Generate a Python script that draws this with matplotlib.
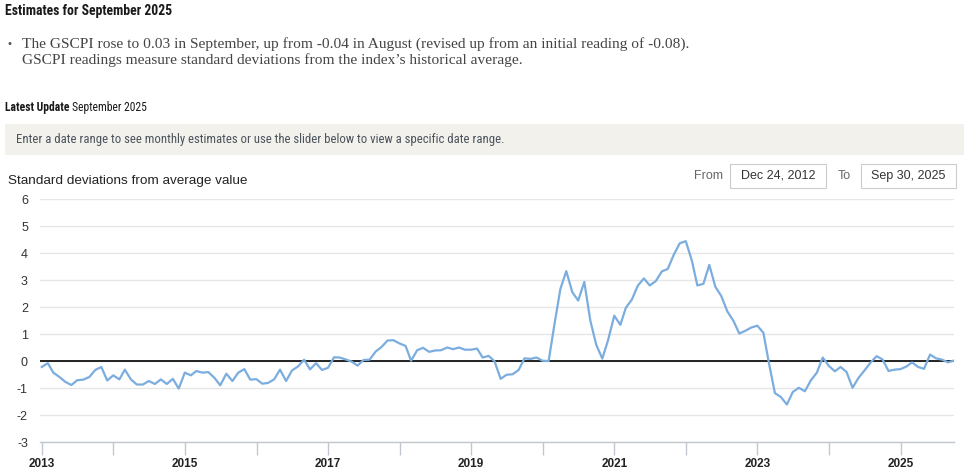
import matplotlib
matplotlib.use("Agg")
import matplotlib.pyplot as plt
from matplotlib import font_manager as fm
from matplotlib.font_manager import FontProperties
from matplotlib.patches import Rectangle
import pandas as pd

# ---- data (GSCPI, monthly, Dec 2012 - Sep 2025) ----
start_month = "2012-12-31"
gscpi = [
    -0.21, -0.07, -0.42, -0.58, -0.76, -0.88, -0.70, -0.68, -0.58, -0.32, -0.21, -0.71,  # Dec12-Nov13
    -0.52, -0.67, -0.31, -0.67, -0.86, -0.86, -0.73, -0.84, -0.67, -0.84, -0.65, -1.01,  # Dec13-Nov14
    -0.42, -0.52, -0.36, -0.42, -0.40, -0.61, -0.89, -0.46, -0.73, -0.42, -0.29, -0.68,  # Dec14-Nov15
    -0.66, -0.83, -0.80, -0.67, -0.31, -0.73, -0.34, -0.19, 0.06, -0.30, -0.07, -0.32,   # Dec15-Nov16
    -0.24, 0.15, 0.14, 0.07, -0.01, -0.16, 0.05, 0.06, 0.36, 0.53, 0.77, 0.78,           # Dec16-Nov17
    0.66, 0.57, 0.02, 0.41, 0.50, 0.35, 0.40, 0.41, 0.51, 0.45, 0.51, 0.43,              # Dec17-Nov18
    0.43, 0.47, 0.14, 0.20, 0.00, -0.65, -0.50, -0.48, -0.32, 0.11, 0.09, 0.14,          # Dec18-Nov19
    0.02, 0.01, 1.34, 2.68, 3.34, 2.56, 2.25, 2.94, 1.50, 0.61, 0.10, 0.80,              # Dec19-Nov20
    1.69, 1.35, 1.98, 2.29, 2.80, 3.07, 2.81, 2.97, 3.33, 3.42, 3.95, 4.37,              # Dec20-Nov21
    4.45, 3.73, 2.81, 2.87, 3.57, 2.76, 2.42, 1.85, 1.50, 1.03, 1.13, 1.25,              # Dec21-Nov22
    1.32, 1.06, -0.05, -1.18, -1.32, -1.60, -1.14, -0.98, -1.11, -0.71, -0.42, 0.14,     # Dec22-Nov23
    -0.17, -0.37, -0.21, -0.40, -0.98, -0.61, -0.34, -0.05, 0.19, 0.07, -0.36, -0.31,    # Dec23-Nov24
    -0.29, -0.19, -0.04, -0.21, -0.28, 0.25, 0.11, 0.06, -0.04, 0.03,                   # Dec24-Sep25
]
dates = pd.date_range(start_month, periods=len(gscpi), freq="ME")

y_ticks = [-3, -2, -1, 0, 1, 2, 3, 4, 5, 6]
year_labels = [2013, 2015, 2017, 2019, 2021, 2023, 2025]
range_from = "Dec 24, 2012"
range_to = "Sep 30, 2025"

title = "Estimates for September 2025"
bullet_1 = "The GSCPI rose to 0.03 in September, up from -0.04 in August (revised up from an initial reading of -0.08)."
bullet_2 = "GSCPI readings measure standard deviations from the index\u2019s historical average."
update_label = "Latest Update"
update_value = "September 2025"
y_title = "Standard deviations from average value"
band_text = "Enter a date range to see monthly estimates or use the slider below to view a specific date range."

# ---- fonts ----
sans = ["Liberation Sans", "DejaVu Sans"]
serif = ["Liberation Serif", "DejaVu Serif"]


def find_condensed(bold):
    cands = []
    for f in fm.fontManager.ttflist:
        fn = f.fname
        if not ("Condensed" in fn or "Narrow" in fn):
            continue
        if "Italic" in fn or "Oblique" in fn or "Light" in fn or "Thin" in fn:
            continue
        is_bold = "Bold" in fn or (isinstance(f.weight, int) and f.weight >= 600) or f.weight == "bold"
        if is_bold != bold:
            continue
        score = 0 if ("Liberation" in fn or "Roboto" in fn) else 1
        cands.append((score, fn))
    cands.sort()
    return cands[0][1] if cands else None


cond_reg = find_condensed(False)
cond_bold = find_condensed(True)


def narrow_props(bold):
    path = cond_bold if bold else cond_reg
    if path:
        return FontProperties(fname=path), True
    return FontProperties(family=sans, weight="bold" if bold else "normal"), False


# ---- layout ----
W, H = 964, 473
fig = plt.figure(figsize=(W / 100, H / 100), dpi=100)
fig.patch.set_facecolor("white")
renderer = fig.canvas.get_renderer()


def fx(px):
    return px / W


def fy(py):
    return 1 - py / H


def narrow_text(x_px, y_px, s, width_px, height_size, bold=False, boost=1.0, fixed=None, **kw):
    """Text in a narrow face; size fitted to reference width (softened if no narrow face)."""
    fp, is_narrow = narrow_props(bold)
    fp = fp.copy()
    fp.set_size(height_size)
    t = fig.text(fx(x_px), fy(y_px), s, fontproperties=fp, va="center", **kw)
    if fixed is not None:
        size = fixed
    else:
        w = t.get_window_extent(renderer).width
        fit = height_size * width_px / w
        size = fit * boost if is_narrow else (fit * height_size) ** 0.5
    fp2 = fp.copy()
    fp2.set_size(size)
    t.set_fontproperties(fp2)
    return t, size


narrow_text(5, 11, title, 167, 9, bold=True, color="#1a1a1a")
fig.text(fx(8), fy(44), "\u2022", fontsize=8, family=sans, color="#555555", va="center")
fig.text(fx(22), fy(44), bullet_1, fontsize=11.1, family=serif, color="#444444", va="center")
fig.text(fx(22), fy(60), bullet_2, fontsize=11.1, family=serif, color="#444444", va="center")

t_lab, lab_size = narrow_text(5, 108, update_label, 64, 8.5, bold=True, color="#1a1a1a")
lab_right = t_lab.get_window_extent(renderer).x1
narrow_text(lab_right + 3, 108, update_value, 63, 8.5, fixed=lab_size, color="#1a1a1a")

fig.patches.append(Rectangle((fx(5), fy(155)), fx(964) - fx(5), fy(124) - fy(155),
                             transform=fig.transFigure, facecolor="#f3f1ec", edgecolor="none"))
narrow_text(16, 140, band_text, 452, 8.5, boost=1.08, color="#4a535c")

t_y = fig.text(fx(8), fy(181), y_title, fontsize=9, family=sans, color="#222222", va="center")
t_y.set_fontsize(9 * 239 / t_y.get_window_extent(renderer).width)

fig.text(fx(694), fy(176), "From", fontsize=9, family=sans, color="#666666", va="center")
fig.text(fx(838), fy(176), "To", fontsize=9, family=sans, color="#666666", va="center")
for (x0, x1, label) in [(730, 826, range_from), (861, 956, range_to)]:
    fig.patches.append(Rectangle((fx(x0), fy(188)), fx(x1) - fx(x0), fy(164) - fy(188),
                                 transform=fig.transFigure, facecolor="white",
                                 edgecolor="#cccccc", linewidth=0.8))
    fig.text(fx((x0 + x1) / 2), fy(176), label, fontsize=9, family=sans, color="#333333",
             va="center", ha="center")

# ---- chart ----
ax = fig.add_axes([fx(40.4), fy(442.3), fx(954) - fx(40.4), fy(199.3) - fy(442.3)])
ax.set_facecolor("white")
ax.plot(dates, gscpi, color="#7badde", lw=1.6, zorder=3, solid_joinstyle="round")
ax.axhline(0, color="black", lw=1.2, zorder=2)

ax.set_ylim(-3, 6)
ax.set_xlim(pd.Timestamp(range_from), pd.Timestamp(range_to))
ax.set_yticks(y_ticks)
ax.set_yticklabels([str(v) for v in y_ticks], family=sans, fontsize=9, color="#333333")
ax.yaxis.grid(True, color="#e6e6e6", lw=1)
ax.tick_params(axis="y", length=0, pad=9)

year_ticks = [pd.Timestamp(f"{y}-01-01") for y in range(2013, 2026)]
ax.set_xticks(year_ticks)
ax.set_xticklabels([str(t.year) if t.year in year_labels else "" for t in year_ticks],
                   family=sans, fontsize=8.5, fontweight="bold", color="#222222")
ax.tick_params(axis="x", length=9, color="#c0c7d0", width=1, pad=2)

for s in ["top", "right", "left"]:
    ax.spines[s].set_visible(False)
ax.spines["bottom"].set_color("#c0c7d0")
ax.spines["bottom"].set_linewidth(1)
ax.set_axisbelow(True)

fig.savefig("out.png", dpi=100)
